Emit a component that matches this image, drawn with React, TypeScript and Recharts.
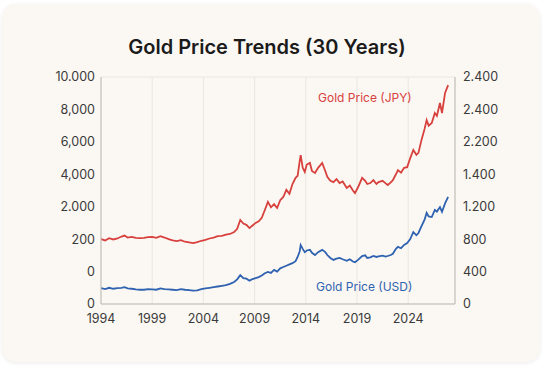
import { CartesianGrid, Line, LineChart, XAxis, YAxis } from "recharts";

// tick labels as printed on the original chart (bottom to top)
const LEFT_TICK_LABELS = ["0", "0", "200", "2.000", "4,000", "6,000", "8,000", "10.000"];
const RIGHT_TICK_LABELS = ["0", "400", "800", "1.200", "1.400", "2.200", "2.400", "2.400"];
const YEAR_TICKS = [1994, 1999, 2004, 2009, 2014, 2019, 2024];

// values are in gridline steps (0 = bottom line, 7 = top line)
const years = [
  1994.0, 1994.4, 1994.8, 1995.2, 1995.6, 1996.0, 1996.3, 1996.6, 1997.0, 1997.4,
  1997.8, 1998.2, 1998.6, 1999.0, 1999.4, 1999.8, 2000.2, 2000.6, 2001.0, 2001.4,
  2001.8, 2002.2, 2002.6, 2003.0, 2003.4, 2003.8, 2004.2, 2004.6, 2005.0, 2005.4,
  2005.8, 2006.2, 2006.6, 2007.0, 2007.3, 2007.6, 2007.9, 2008.2, 2008.5, 2008.8,
  2009.1, 2009.4, 2009.7, 2010.0, 2010.3, 2010.6, 2010.9, 2011.2, 2011.5, 2011.8,
  2012.1, 2012.4, 2012.7, 2013.0, 2013.2, 2013.4, 2013.5, 2013.7, 2013.9, 2014.1,
  2014.4, 2014.6, 2014.9, 2015.2, 2015.6, 2015.9, 2016.1, 2016.4, 2016.7, 2017.0,
  2017.3, 2017.6, 2018.0, 2018.3, 2018.6, 2018.8, 2019.1, 2019.5, 2019.8, 2020.0,
  2020.3, 2020.6, 2020.9, 2021.1, 2021.5, 2021.8, 2022.0, 2022.3, 2022.5, 2022.8,
  2023.0, 2023.3, 2023.6, 2023.9, 2024.2, 2024.5, 2024.8, 2025.0, 2025.3, 2025.6,
  2025.8, 2026.0, 2026.3, 2026.6, 2026.8, 2027.1, 2027.3, 2027.6, 2027.9,
];

const jpyValues = [
  2.0, 1.96, 2.03, 1.99, 2.02, 2.08, 2.11, 2.05, 2.07, 2.04,
  2.03, 2.04, 2.06, 2.07, 2.04, 2.09, 2.05, 2.0, 1.96, 1.94,
  1.97, 1.92, 1.9, 1.88, 1.91, 1.95, 1.98, 2.02, 2.05, 2.09,
  2.1, 2.14, 2.16, 2.22, 2.32, 2.59, 2.48, 2.44, 2.34, 2.42,
  2.5, 2.55, 2.66, 2.9, 3.15, 2.98, 3.08, 2.96, 3.2, 3.3,
  3.52, 3.4, 3.7, 3.89, 3.95, 4.4, 4.59, 4.2, 4.07, 4.3,
  4.35, 4.1, 4.04, 4.2, 4.35, 4.1, 3.92, 3.8, 3.76, 3.85,
  3.73, 3.78, 3.58, 3.65, 3.5, 3.42, 3.6, 3.89, 3.8, 3.7,
  3.73, 3.82, 3.7, 3.76, 3.8, 3.72, 3.67, 3.75, 3.82, 4.0,
  4.13, 4.05, 4.2, 4.22, 4.5, 4.75, 4.6, 4.66, 5.06, 5.4,
  5.67, 5.5, 5.58, 5.89, 5.8, 6.2, 5.89, 6.51, 6.75,
];

const usdValues = [
  0.49, 0.46, 0.5, 0.47, 0.49, 0.5, 0.52, 0.48, 0.47, 0.45,
  0.44, 0.44, 0.46, 0.45, 0.44, 0.48, 0.46, 0.45, 0.44, 0.43,
  0.46, 0.44, 0.43, 0.41, 0.42, 0.46, 0.48, 0.5, 0.52, 0.54,
  0.56, 0.58, 0.62, 0.68, 0.76, 0.89, 0.8, 0.78, 0.72, 0.77,
  0.8, 0.83, 0.88, 0.95, 0.99, 0.96, 1.05, 1.0, 1.1, 1.14,
  1.18, 1.22, 1.26, 1.32, 1.45, 1.62, 1.82, 1.7, 1.6, 1.65,
  1.67, 1.58, 1.51, 1.6, 1.67, 1.6, 1.51, 1.42, 1.36, 1.4,
  1.42, 1.38, 1.33, 1.38, 1.31, 1.29, 1.36, 1.48, 1.5, 1.42,
  1.44, 1.48, 1.45, 1.47, 1.49, 1.46, 1.48, 1.51, 1.55, 1.7,
  1.76, 1.72, 1.82, 1.88, 2.0, 2.22, 2.12, 2.19, 2.4, 2.6,
  2.81, 2.7, 2.68, 2.9, 2.85, 2.99, 2.84, 3.1, 3.3,
];

const data = years.map((year, i) => ({
  year,
  jpy: jpyValues[i],
  usd: usdValues[i],
}));

const RED = "#d8403d";
const BLUE = "#2f62b0";
const FONT = "Inter, 'Noto Sans', sans-serif";
const tickStyle = { fill: "#3a3a3a", fontSize: 12.5, fontFamily: FONT };

export default function App() {
  return (
    <div
      style={{
        position: "fixed",
        left: 0,
        top: 0,
        width: 552,
        height: 368,
        background: "#ffffff",
        fontFamily: FONT,
      }}
    >
      <div
        style={{
          position: "absolute",
          left: 2,
          top: 4,
          width: 538,
          height: 358,
          borderRadius: 14,
          background: "#fbf8f3",
          boxShadow: "0 1px 4px rgba(0,0,0,0.08)",
        }}
      />
      <div
        style={{
          position: "absolute",
          left: 0,
          top: 33,
          width: 534,
          textAlign: "center",
          fontSize: 20,
          fontWeight: 600,
          color: "#1b1b1b",
          lineHeight: "28px",
        }}
      >
        Gold Price Trends (30 Years)
      </div>
      <div style={{ position: "absolute", left: 0, top: 0 }}>
        <LineChart
          width={552}
          height={368}
          data={data}
          margin={{ top: 77, right: 37, bottom: 34, left: 41 }}
        >
          <CartesianGrid stroke="#ebe6de" strokeWidth={1} />
          <XAxis
            dataKey="year"
            type="number"
            domain={[1994, 2028.57]}
            ticks={YEAR_TICKS}
            allowDataOverflow
            height={30}
            tick={tickStyle}
            tickLine={false}
            axisLine={{ stroke: "#bdbab4" }}
            tickMargin={4}
          />
          <YAxis
            yAxisId="left"
            orientation="left"
            type="number"
            domain={[0, 7]}
            ticks={[0, 1, 2, 3, 4, 5, 6, 7]}
            tickFormatter={(v: number) => LEFT_TICK_LABELS[v]}
            width={60}
            tick={{ ...tickStyle, dx: 2 }}
            tickLine={false}
            axisLine={{ stroke: "#bdbab4" }}
          />
          <YAxis
            yAxisId="right"
            orientation="right"
            type="number"
            domain={[0, 7]}
            ticks={[0, 1, 2, 3, 4, 5, 6, 7]}
            tickFormatter={(v: number) => RIGHT_TICK_LABELS[v]}
            width={60}
            tick={{ ...tickStyle, textAnchor: "start" }}
            tickLine={false}
            axisLine={{ stroke: "#bdbab4" }}
          />
          <Line
            yAxisId="left"
            type="linear"
            dataKey="jpy"
            stroke={RED}
            strokeWidth={1.8}
            dot={false}
            isAnimationActive={false}
          />
          <Line
            yAxisId="right"
            type="linear"
            dataKey="usd"
            stroke={BLUE}
            strokeWidth={1.8}
            dot={false}
            isAnimationActive={false}
          />
        </LineChart>
      </div>
      <div
        style={{
          position: "absolute",
          left: 318,
          top: 90,
          fontSize: 12,
          color: RED,
        }}
      >
        Gold Price (JPY)
      </div>
      <div
        style={{
          position: "absolute",
          left: 316,
          top: 279,
          fontSize: 12,
          color: BLUE,
        }}
      >
        Gold Price (USD)
      </div>
    </div>
  );
}
